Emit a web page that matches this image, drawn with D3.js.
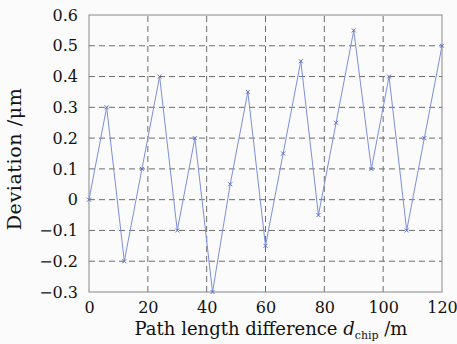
<!DOCTYPE html>
<html lang="en">
<head>
<meta charset="UTF-8">
<title>Deviation vs path length difference</title>
<script src="https://cdnjs.cloudflare.com/ajax/libs/d3/7.8.5/d3.min.js"></script>
<style>
    html, body {
        margin: 0;
        padding: 0;
        background-color: #fbfbfb;
    }
    text {
        font-family: "DejaVu Serif", "Liberation Serif", serif;
        fill: #111;
    }
</style>
</head>
<body>
<div id="chart"></div>
<script>
    // data
    const pathDiff = [0, 6, 12, 18, 24, 30, 36, 42, 48, 54, 60, 66, 72, 78, 84, 90, 96, 102, 108, 114, 120];
    const deviation = [0, 0.3, -0.2, 0.1, 0.4, -0.1, 0.2, -0.3, 0.05, 0.35, -0.15, 0.15, 0.45, -0.05, 0.25, 0.55, 0.1, 0.4, -0.1, 0.2, 0.5];
    const xTicks = [0, 20, 40, 60, 80, 100, 120];
    const yTicks = [-0.3, -0.2, -0.1, 0, 0.1, 0.2, 0.3, 0.4, 0.5, 0.6];

    const width = 457, height = 344;
    const margin = {top: 15, right: 15, bottom: 52, left: 89};

    const svg = d3.select("#chart").append("svg")
        .attr("width", width)
        .attr("height", height);

    const x = d3.scaleLinear().domain([0, 120]).range([margin.left, width - margin.right]);
    const y = d3.scaleLinear().domain([-0.3, 0.6]).range([height - margin.bottom, margin.top]);

    // grid
    svg.append("g").selectAll("line")
        .data(yTicks.slice(1, -1))
        .join("line")
        .attr("x1", x(0)).attr("x2", x(120))
        .attr("y1", d => y(d)).attr("y2", d => y(d))
        .attr("stroke", "#6e6e6e")
        .attr("stroke-width", 1)
        .attr("stroke-dasharray", "6,4");

    svg.append("g").selectAll("line")
        .data(xTicks.slice(1, -1))
        .join("line")
        .attr("x1", d => x(d)).attr("x2", d => x(d))
        .attr("y1", y(-0.3)).attr("y2", y(0.6))
        .attr("stroke", "#6e6e6e")
        .attr("stroke-width", 1)
        .attr("stroke-dasharray", "6,4");

    // frame
    svg.append("rect")
        .attr("x", x(0)).attr("y", y(0.6))
        .attr("width", x(120) - x(0))
        .attr("height", y(-0.3) - y(0.6))
        .attr("fill", "none")
        .attr("stroke", "#888")
        .attr("stroke-width", 1);

    // axes (labels only, the frame is drawn above)
    const xAxis = svg.append("g")
        .attr("transform", `translate(0,${y(-0.3)})`)
        .call(d3.axisBottom(x).tickValues(xTicks).tickSize(0).tickPadding(10).tickFormat(d3.format("d")));
    const yAxis = svg.append("g")
        .attr("transform", `translate(${x(0)},0)`)
        .call(d3.axisLeft(y).tickValues(yTicks).tickSize(0).tickPadding(11)
            .tickFormat(d => d === 0 ? "0" : d3.format(".1f")(d).replace("-", "\u2212")));
    [xAxis, yAxis].forEach(a => {
        a.select(".domain").remove();
        a.selectAll("text").attr("font-size", 16).attr("font-family", null).attr("fill", "#111");
    });

    // series
    const line = d3.line().x((d, i) => x(pathDiff[i])).y(d => y(d));
    svg.append("path")
        .datum(deviation)
        .attr("d", line)
        .attr("fill", "none")
        .attr("stroke", "#7d8fd8")
        .attr("stroke-width", 1);

    svg.append("g").selectAll("path")
        .data(deviation)
        .join("path")
        .attr("transform", (d, i) => `translate(${x(pathDiff[i])},${y(d)})`)
        .attr("d", "M-2,-2L2,2M-2,2L2,-2")
        .attr("stroke", "#5a6fc8")
        .attr("stroke-width", 1)
        .attr("fill", "none");

    // titles
    const xTitle = svg.append("text")
        .attr("x", 271)
        .attr("y", 335)
        .attr("text-anchor", "middle")
        .attr("font-size", 18);
    xTitle.append("tspan").text("Path length difference ");
    xTitle.append("tspan").attr("font-style", "italic").text("d");
    xTitle.append("tspan").attr("font-size", 11).attr("dy", 4).text("chip");
    xTitle.append("tspan").attr("dy", -4).text(" /m");

    svg.append("text")
        .attr("transform", `translate(21,159) rotate(-90)`)
        .attr("text-anchor", "middle")
        .attr("font-size", 19)
        .attr("letter-spacing", 0.6)
        .text("Deviation /\u03bcm");
</script>
</body>
</html>
